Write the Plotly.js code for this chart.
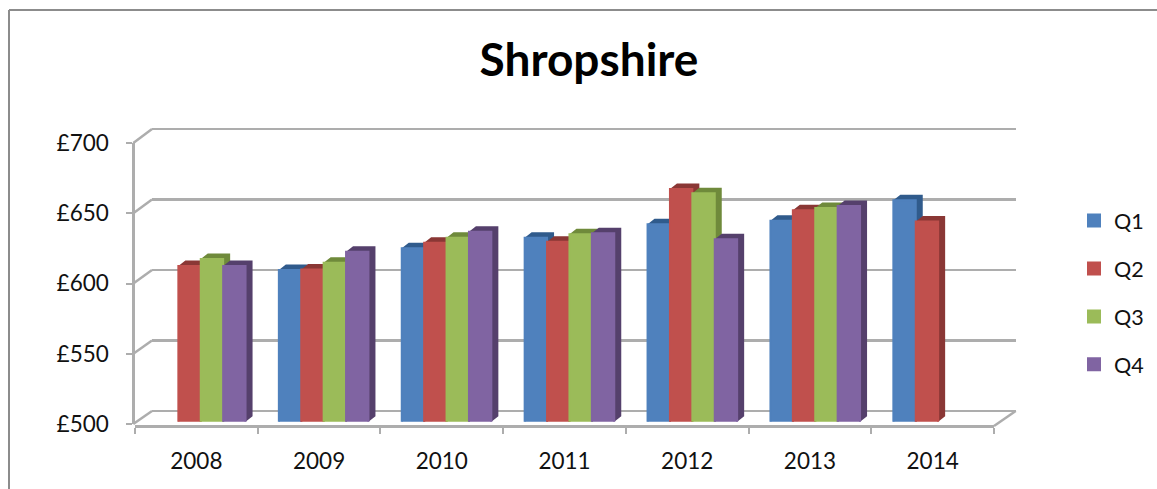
<!DOCTYPE html>
<html>
<head>
<meta charset="utf-8">
<script src="https://cdn.plot.ly/plotly-3.0.1.min.js"></script>
<style>html,body{margin:0;padding:0;background:#fff}#chart{width:1157px;height:489px}</style>
</head>
<body>
<div id="chart"></div>
<script>
const years = ['2008','2009','2010','2011','2012','2013','2014'];
const q1 = [null, 607.6, 623, 630.5, 640, 642.5, 657];
const q2 = [610.4, 608, 627, 627.7, 665, 650, 642];
const q3 = [615.4, 612.8, 630.5, 633, 662, 651.5, null];
const q4 = [610.5, 620.5, 634.8, 633.6, 629.4, 653, null];
const seriesNames = ['Q1','Q2','Q3','Q4'];
const seriesValues = [q1,q2,q3,q4];
const frontColors = ['#4F81BD','#C0504D','#9BBB59','#8064A2'];
const darkColors = ['#305B8C','#8A3735','#6F8A3B','#55406C'];
const valueTicks = [500,550,600,650,700];

const W = 1157, H = 489;
const px = v => v / W;
const py = v => 1 - v / H;
const GRID = '#adadad', FONT = 'Lato, sans-serif', INK = '#111111';
const barWidth = 0.1823, depthX = 7 / 122.9, depthY = 5.5 / 1.41;

const traces = [];
traces.push({type:'scatter', x:[0], y:[null], xaxis:'x', yaxis:'y', showlegend:false, hoverinfo:'skip', mode:'none'});
traces.push({type:'scatter', x:years, y:years.map(()=>null), xaxis:'x2', yaxis:'y2', showlegend:false, hoverinfo:'skip', mode:'none'});

seriesValues.forEach((vals, s) => {
  const fx = [], fy = [];
  vals.forEach((v, i) => {
    if (v === null) return;
    const right = i + (s - 1) * barWidth, left = right - barWidth;
    fx.push(right, right + depthX, right + depthX, right, null);
    fy.push(500, 500 + depthY, v + depthY, v, null);
    fx.push(left, left + depthX, right + depthX, right, null);
    fy.push(v, v + depthY, v + depthY, v, null);
  });
  traces.push({type:'scatter', mode:'none', fill:'toself', fillcolor:darkColors[s],
    x:fx, y:fy, xaxis:'x3', yaxis:'y3', showlegend:false, hoverinfo:'skip'});
});

seriesValues.forEach((vals, s) => {
  traces.push({type:'bar', name:seriesNames[s], x:years.map((_, i)=>i), y:vals, xaxis:'x4', yaxis:'y4',
    base:0, legendgroup:seriesNames[s], marker:{color:frontColors[s], line:{color:frontColors[s], width:2}}});
});

const hidden = {visible:false, fixedrange:true};
const shapes = [];
const addLine = (x0,y0,x1,y1,color,width) => shapes.push({type:'line', xref:'paper', yref:'paper',
  x0:px(x0), y0:py(y0), x1:px(x1), y1:py(y1), line:{color:color, width:width}, layer:'below'});
addLine(9,10,W,10,'#8c8c8c',2);
addLine(9,10,9,H,'#8c8c8c',2);
valueTicks.forEach(v => {
  const f = 143 + (700 - v) * 1.405, b = 129 + (700 - v) * 1.41;
  addLine(133.3, f, 152, b, GRID, 2.5);
});
addLine(994, 426, 1015.7, 411, GRID, 2.5);

const layout = {
  width:W, height:H, margin:{l:0,r:0,t:0,b:0,autoexpand:false},
  paper_bgcolor:'#fff', plot_bgcolor:'rgba(0,0,0,0)', shapes:shapes,
  font:{family:FONT, color:INK},
  title:{text:'Shropshire', x:px(589), xanchor:'center', xref:'paper', y:py(60), yanchor:'middle', yref:'paper',
    font:{family:FONT, size:46, weight:700, color:'#000'}},
  barmode:'group', bargap:0.271, bargroupgap:0,
  showlegend:true,
  legend:{x:px(1074), y:py(200), xanchor:'left', yanchor:'top', bgcolor:'rgba(0,0,0,0)', borderwidth:0,
    font:{family:FONT, size:21.5, color:INK}, traceorder:'grouped', tracegroupgap:17, itemclick:false, itemdoubleclick:false},
  xaxis:{domain:[px(152),px(1015.7)], range:[0,1], anchor:'y', showticklabels:false, ticks:'', showgrid:false, zeroline:false, showline:false, fixedrange:true},
  yaxis:{domain:[py(411+2*1.41),py(129-2*1.41)], range:[498,702], anchor:'x', tickvals:valueTicks, showticklabels:false, ticks:'', showgrid:true, gridcolor:GRID, gridwidth:2.5, zeroline:false, showline:false, fixedrange:true},
  xaxis2:{domain:[px(135),px(994)], type:'category', categoryorder:'array', categoryarray:years, range:[-0.5,6.5],
    anchor:'free', position:py(426), side:'bottom', tickson:'boundaries', ticks:'outside', ticklen:6, tickwidth:2, tickcolor:GRID,
    showline:true, linecolor:GRID, linewidth:2.5, showgrid:false, zeroline:false, ticklabelstandoff:14,
    tickfont:{family:FONT, size:22.5, color:INK}, fixedrange:true},
  yaxis2:{domain:[py(424),py(143)], range:[500,700], tickvals:valueTicks, ticktext:valueTicks.map(v=>'£'+v),
    anchor:'free', position:px(133.3), side:'left', ticks:'outside', ticklen:6, tickwidth:2, tickcolor:GRID,
    showline:true, linecolor:GRID, linewidth:2.5, showgrid:false, zeroline:false, ticklabelstandoff:13,
    tickfont:{family:FONT, size:22.5, color:INK}, fixedrange:true},
  xaxis3:Object.assign({domain:[px(139.3),px(999.6)], range:[-0.5,6.5], anchor:'y3'}, hidden),
  yaxis3:Object.assign({domain:[py(421.7),py(139.7)], range:[500,700], anchor:'x3'}, hidden),
  xaxis4:Object.assign({domain:[px(139.3),px(999.6)], range:[-0.5,6.5], anchor:'y4'}, hidden),
  yaxis4:Object.assign({domain:[py(421.7),py(139.7)], range:[500,700], anchor:'x4'}, hidden)
};
Plotly.newPlot('chart', traces, layout, {displayModeBar:false, staticPlot:true});
</script>
</body>
</html>
